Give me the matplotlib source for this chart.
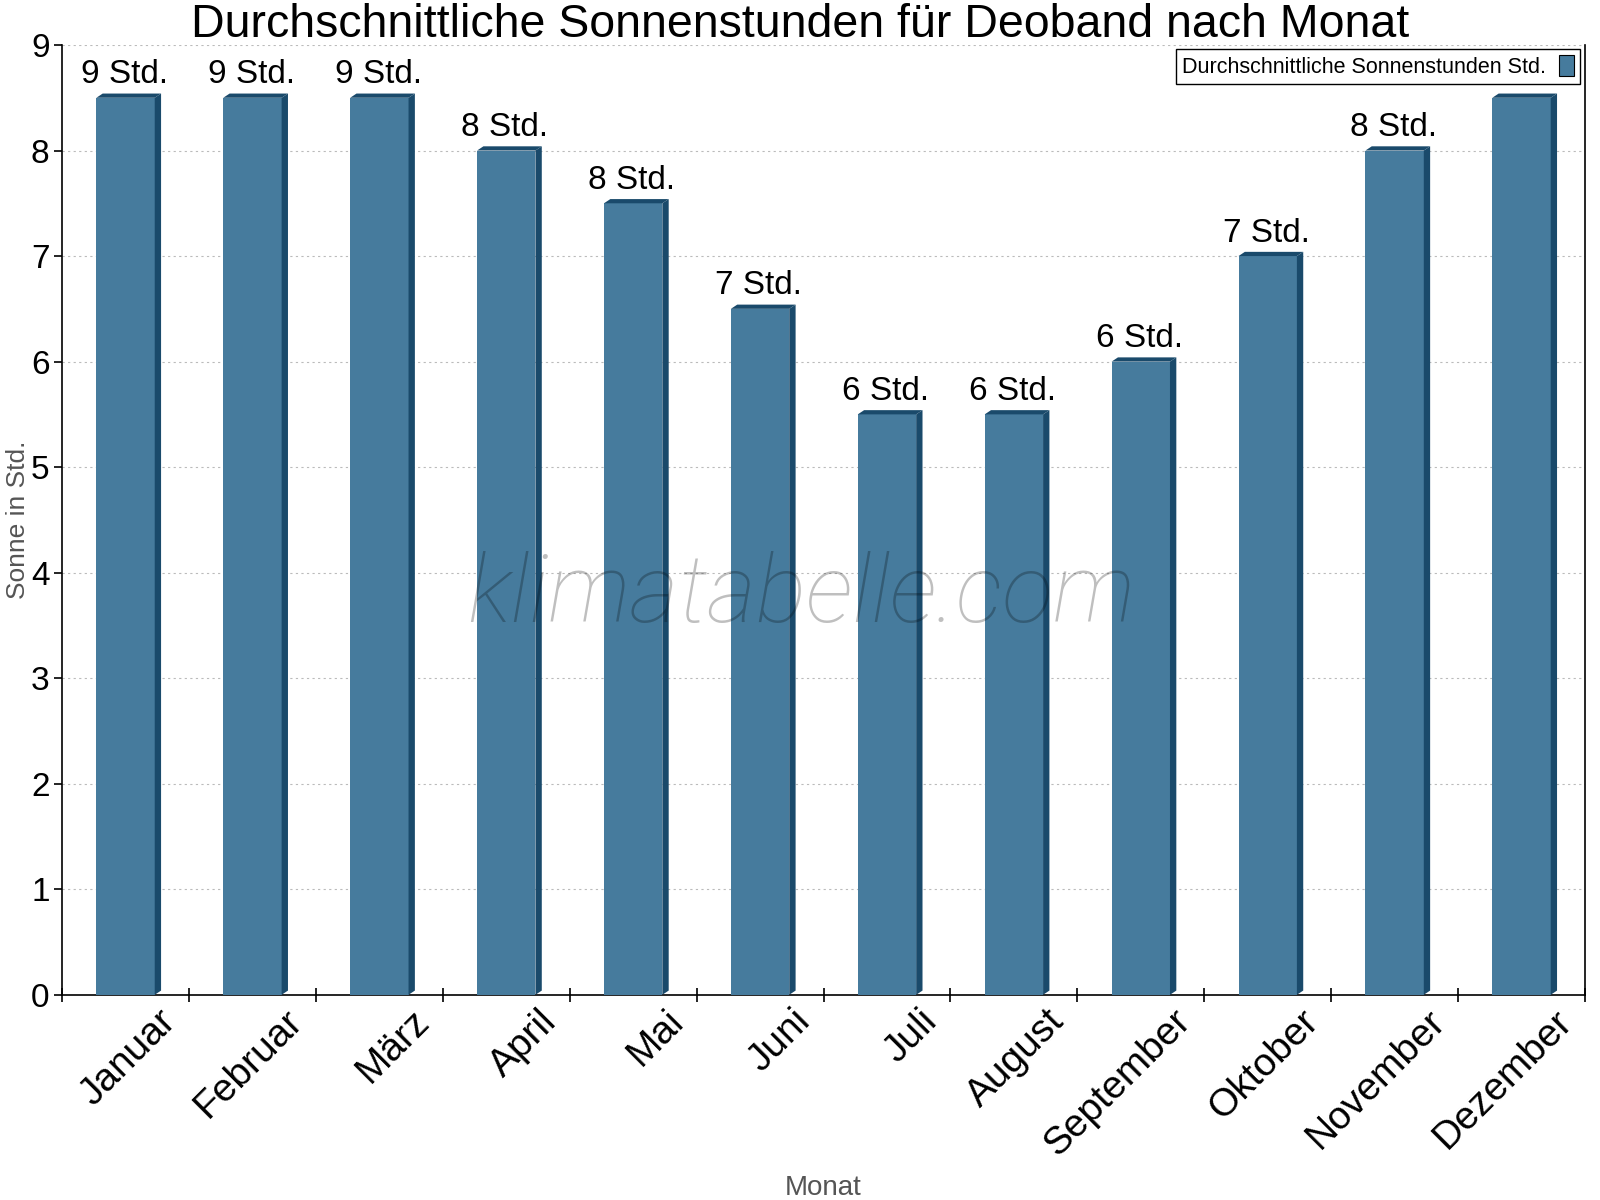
import matplotlib.pyplot as plt
import matplotlib.transforms as mtransforms
from matplotlib.patches import Polygon, Patch

months = ['Januar', 'Februar', 'März', 'April', 'Mai', 'Juni', 'Juli',
          'August', 'September', 'Oktober', 'November', 'Dezember']
sun_hours = [8.5, 8.5, 8.5, 8.0, 7.5, 6.5, 5.5, 5.5, 6.0, 7.0, 8.0, 8.5]
bar_labels = ['9 Std.', '9 Std.', '9 Std.', '8 Std.', '8 Std.', '7 Std.',
              '6 Std.', '6 Std.', '6 Std.', '7 Std.', '8 Std.', '9 Std.']

front = '#467b9d'
side = '#1a4a6b'

plt.rcParams['font.family'] = ['Liberation Sans', 'DejaVu Sans']

fig = plt.figure(figsize=(16, 12), dpi=100)
ax = fig.add_axes([0.0388, 0.171, 0.9518, 0.7915])

width = 0.46
dx = 0.05    # side depth in category units
dy = 0.04    # top depth in hours
for i, v in enumerate(sun_hours):
    x0 = i - width / 2
    x1 = i + width / 2
    ax.add_patch(Polygon([(x0, 0), (x1, 0), (x1, v), (x0, v)],
                         closed=True, facecolor=front, edgecolor='none', zorder=3))
    ax.add_patch(Polygon([(x1, 0), (x1 + dx, dy), (x1 + dx, v + dy), (x1, v)],
                         closed=True, facecolor=side, edgecolor='none', zorder=3))
    ax.add_patch(Polygon([(x0, v), (x1, v), (x1 + dx, v + dy), (x0 + dx, v + dy)],
                         closed=True, facecolor=side, edgecolor='none', zorder=3))
    ax.text(i - 0.01, v + 0.07, bar_labels[i], ha='center', va='bottom',
            fontsize=24, color='black', zorder=5)

ax.set_xlim(-0.5, len(months) - 0.5)
ax.set_ylim(0, 9)
ax.set_yticks(range(0, 10))
ax.tick_params(axis='y', labelsize=24, length=6, width=1.2, pad=3)

ax.set_xticks(range(len(months)))
ax.set_xticklabels(months, rotation=45, ha='right', rotation_mode='anchor',
                   fontsize=28)
ax.tick_params(axis='x', which='major', length=0, pad=6)
ax.set_xticks([i - 0.5 for i in range(len(months) + 1)], minor=True)
ax.tick_params(axis='x', which='minor', length=10, width=1.2, direction='inout')
offset = mtransforms.ScaledTranslation(0.32, 0, fig.dpi_scale_trans)
for lbl in ax.get_xticklabels():
    lbl.set_transform(lbl.get_transform() + offset)

ax.grid(axis='y', color='#bbbbbb', linestyle=(0, (2, 3)), linewidth=0.8, zorder=0)
ax.spines['top'].set_visible(False)
for s in ['left', 'bottom', 'right']:
    ax.spines[s].set_linewidth(1.2)

fig.text(0.5, 0.979, 'Durchschnittliche Sonnenstunden für Deoband nach Monat',
         fontsize=33.5, ha='center', va='center')
ax.set_xlabel('Monat', fontsize=20, color='#555555')
ax.xaxis.set_label_coords(0.5, -0.19)
ax.set_ylabel('Sonne in Std.', fontsize=19, color='#555555')
ax.yaxis.set_label_coords(-0.021, 0.5)

ax.text(0.485, 0.42, 'klimatabelle.com', transform=ax.transAxes, ha='center',
        va='center', fontsize=68, style='italic', family='Roboto',
        fontweight='light', color='black', alpha=0.25, zorder=6)

handle = Patch(facecolor=front, edgecolor='black', linewidth=0.8)
leg = ax.legend([handle], ['Durchschnittliche Sonnenstunden Std.'],
                loc='upper right', bbox_to_anchor=(0.9967, 0.9958),
                borderaxespad=0, fontsize=15.5,
                markerfirst=False, fancybox=False, framealpha=1,
                edgecolor='black', handlelength=0.7, handleheight=1.1,
                borderpad=0.28, handletextpad=0.6)
leg.get_frame().set_linewidth(1)
leg.set_zorder(10)

fig.savefig('out.png', dpi=100)
